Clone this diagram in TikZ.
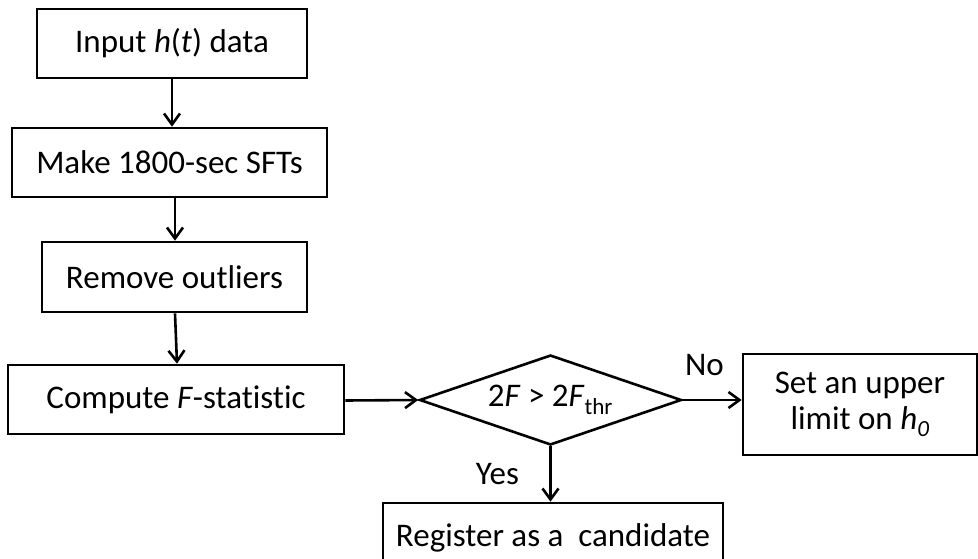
\documentclass[tikz,border=0pt]{standalone}
\usepackage{fontspec}
\setmainfont{Carlito}[Ligatures=NoCommon]
\usetikzlibrary{arrows.meta,shapes.geometric}
\begin{document}
\begin{tikzpicture}[x=1pt,y=-1pt,
  every node/.style={font=\fontsize{33}{40}\selectfont},
  stepbox/.style={draw,line width=2.6pt,rectangle,inner sep=0pt},
  decision/.style={draw,line width=2.6pt,diamond,aspect=2.85,inner sep=0pt},
  flow/.style={line width=2.6pt,-{Straight Barb[length=11pt,width=16pt,line width=2.6pt]}},
  lbl/.style={inner sep=0pt}]
\useasboundingbox (0,0) rectangle (978,559);
\node[stepbox,minimum width=270pt,minimum height=69pt] (input) at (172,43.5) {Input \textit{h}(\textit{t}) data};
\node[stepbox,minimum width=315pt,minimum height=69pt] (sft) at (169.5,162.5) {Make 1800-sec SFTs};
\node[stepbox,minimum width=265pt,minimum height=70pt] (outl) at (174.5,277) {Remove outliers};
\node[stepbox,minimum width=336pt,minimum height=69pt] (fstat) at (176,399.5) {Compute \textit{F}-statistic};
\node[decision,minimum width=262pt,minimum height=90pt] (dec) at (550.5,400) {2\textit{F} > 2\textit{F}\textsubscript{thr}};
\node[stepbox,minimum width=234pt,minimum height=101pt,align=center] (upper) at (860,404.5) {Set an upper\\[-4pt]limit on \textit{h\textsubscript{0}}};
\node[stepbox,minimum width=340pt,minimum height=70pt] (cand) at (553,538) {Register as a\ \ candidate};
\node[lbl] (no) at (704.5,365) {No};
\node[lbl] (yes) at (497.5,474) {Yes};
\draw[flow] (input.south -| 172,0) -- (sft.north -| 172,0);
\draw[flow] (sft.south -| 175,0) -- (outl.north -| 175,0);
\draw[flow] (outl.south -| 175,0) -- (fstat.north -| 177,0);
\draw[flow] (fstat.east |- 0,400.5) -- (dec.west);
\draw[flow] (dec.east) -- (upper.west |- dec.east);
\draw[flow] (dec.south) -- (cand.north -| dec.south);
\end{tikzpicture}
\end{document}
